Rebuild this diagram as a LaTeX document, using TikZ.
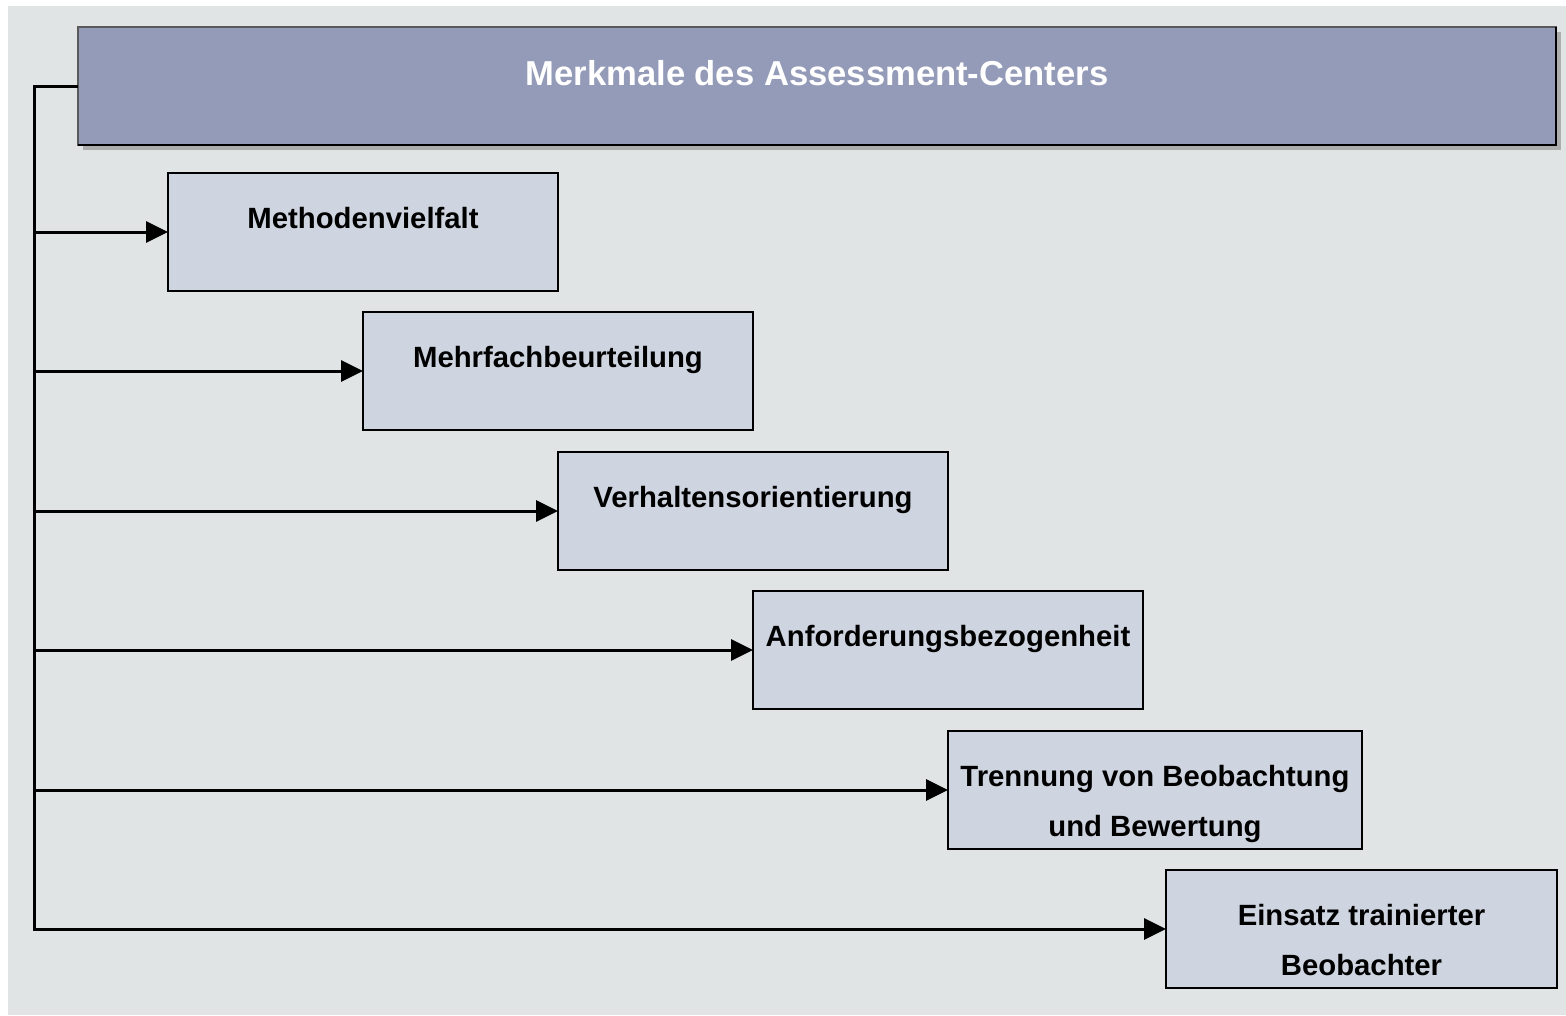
\documentclass[tikz,border=0pt]{standalone}
\usepackage{fontspec}
\setmainfont{Liberation Sans}
\usetikzlibrary{arrows.meta,calc}
\definecolor{bgc}{RGB}{224,228,229}
\definecolor{hdrc}{RGB}{148,155,184}
\definecolor{boxc}{RGB}{207,213,224}
\definecolor{shc}{RGB}{173,173,173}
\tikzset{
  fbox/.style={draw=black, line width=2.5pt, fill=boxc, minimum width=390pt, minimum height=118pt, inner sep=0pt, outer sep=0pt, anchor=north west},
  ftxt/.style={font=\fontsize{29.3}{50}\selectfont\bfseries, align=center, anchor=base, inner sep=0pt},
  conn/.style={line width=3pt, black},
  arr/.style={conn, -{Triangle[length=22pt,width=21pt]}},
}
\begin{document}
\begin{tikzpicture}[x=1pt,y=-1pt]
\useasboundingbox (0,0) rectangle (1566,1015);
\fill[white] (0,0) rectangle (1566,1015);
\fill[bgc] (8,6) rectangle (1566,1015);
% header
\fill[shc] (83,32) rectangle (1561,150);
\node[draw=black!65, line width=2.2pt, fill=hdrc, minimum width=1478pt, minimum height=118pt, inner sep=0pt, outer sep=0pt, anchor=north west] (hdr) at (78,27) {};
\draw[black, line width=2.2pt] (hdr.north east) -- (hdr.south east) -- (hdr.south west);
\node[font=\fontsize{34.6}{40}\selectfont\bfseries, text=white, anchor=base, inner sep=0pt] (title) at ($(hdr.north)+(0,58)$) {Merkmale des Assessment-Centers};
% boxes
\node[fbox] (b1) at (168,173) {};
\node[fbox] (b2) at (363,312) {};
\node[fbox] (b3) at (558,452) {};
\node[fbox] (b4) at (753,591) {};
\node[fbox, minimum width=414pt] (b5) at (948,731) {};
\node[fbox, minimum width=391pt] (b6) at (1166,870) {};
\node[ftxt] (t1) at ($(b1.north)+(0,55)$) {Methodenvielfalt};
\node[ftxt] (t2) at ($(b2.north)+(0,55)$) {Mehrfachbeurteilung};
\node[ftxt] (t3) at ($(b3.north)+(0,55)$) {Verhaltensorientierung};
\node[ftxt] (t4) at ($(b4.north)+(0,55)$) {Anforderungsbezogenheit};
\node[ftxt] (t5) at ($(b5.north)+(0,105)$) {Trennung von Beobachtung\\und Bewertung};
\node[ftxt] (t6) at ($(b6.north)+(0,105)$) {Einsatz trainierter\\Beobachter};
% connectors
\coordinate (spine) at (34,929);
\draw[conn, line join=miter] (hdr.west) -- (hdr.west -| spine) -- (spine) -- ($(b6.west)+(-20,0)$);
\draw[arr] (spine) -- (b6.west);
\foreach \b in {b1,b2,b3,b4,b5}{
  \draw[arr] (\b.west -| spine) -- (\b.west);
}
\end{tikzpicture}
\end{document}
